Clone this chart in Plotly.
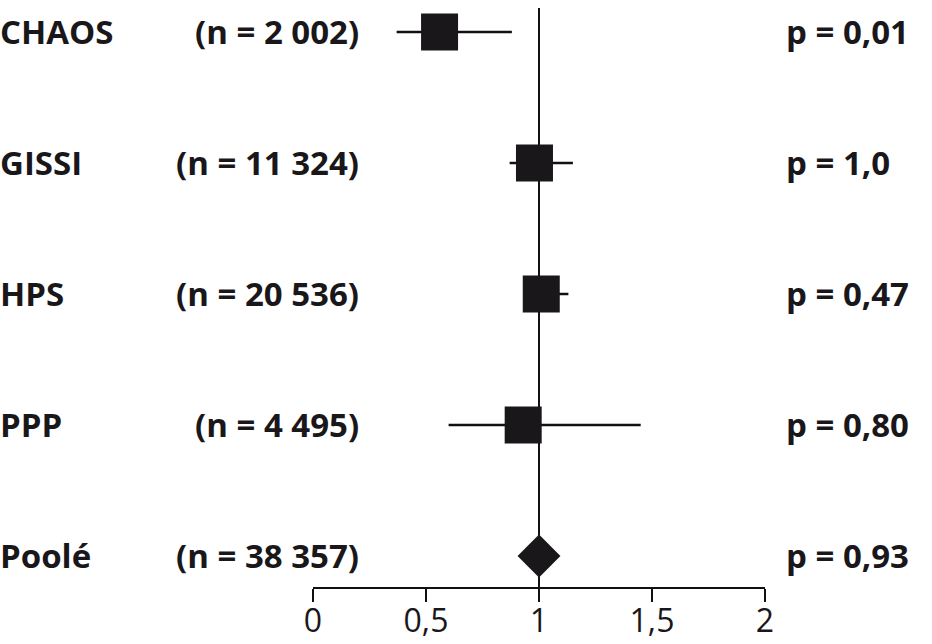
import plotly.graph_objects as go

studies = ["CHAOS", "GISSI", "HPS", "PPP"]
n_labels = ["(n = 2 002)", "(n = 11 324)", "(n = 20 536)", "(n = 4 495)"]
p_labels = ["p = 0,01", "p = 1,0", "p = 0,47", "p = 0,80"]
rr = [0.56, 0.98, 1.01, 0.93]
ci_low = [0.37, 0.87, 0.93, 0.60]
ci_high = [0.88, 1.15, 1.13, 1.45]
rows = [5, 4, 3, 2]

pooled_name = "Poolé"
pooled_n = "(n = 38 357)"
pooled_p = "p = 0,93"
pooled_rr = 1.0
pooled_row = 1

tick_vals = [0, 0.5, 1, 1.5, 2]
tick_text = ["0", "0,5", "1", "1,5", "2"]

INK = "#1a171b"
W, H = 932, 644
L, R, T, B = 313, 167, 8, 57

fig = go.Figure()

fig.add_trace(go.Scatter(
    x=rr, y=rows, mode="markers",
    marker=dict(symbol="square", size=37, color=INK, line=dict(width=0)),
    error_x=dict(type="data", symmetric=False,
                 array=[h - v for h, v in zip(ci_high, rr)],
                 arrayminus=[v - l for v, l in zip(rr, ci_low)],
                 color="#111111", thickness=2.5, width=0),
    showlegend=False, hoverinfo="skip"))

fig.add_trace(go.Scatter(
    x=[pooled_rr], y=[pooled_row], mode="markers",
    marker=dict(symbol="diamond", size=33, color=INK, line=dict(width=0)),
    showlegend=False, hoverinfo="skip"))

fig.add_shape(type="line", xref="x", yref="paper", x0=1, x1=1, y0=0, y1=1,
              line=dict(color="#111111", width=2), layer="below")

font_b = dict(family="Open Sans", size=33, color=INK)

def px_to_paper_x(px):
    return (px - L) / (W - L - R)

all_names = studies + [pooled_name]
all_n = n_labels + [pooled_n]
all_p = p_labels + [pooled_p]
all_rows = rows + [pooled_row]

for name, nl, pl, r in zip(all_names, all_n, all_p, all_rows):
    fig.add_annotation(x=px_to_paper_x(-2), xref="paper", y=r, yref="y",
                       text="<b>%s</b>" % name, showarrow=False,
                       xanchor="left", yanchor="middle", font=font_b)
    fig.add_annotation(x=px_to_paper_x(361), xref="paper", y=r, yref="y",
                       text="<b>%s</b>" % nl, showarrow=False,
                       xanchor="right", yanchor="middle", font=font_b)
    fig.add_annotation(x=px_to_paper_x(784), xref="paper", y=r, yref="y",
                       text="<b>%s</b>" % pl, showarrow=False,
                       xanchor="left", yanchor="middle", font=font_b)

fig.update_layout(
    width=W, height=H,
    margin=dict(l=L, r=R, t=T, b=B, pad=0, autoexpand=False),
    paper_bgcolor="white", plot_bgcolor="white",
    xaxis=dict(range=[0, 2], tickvals=tick_vals, ticktext=tick_text,
               automargin=False,
               showgrid=False, zeroline=False, showline=True,
               linecolor="#111111", linewidth=2,
               ticks="outside", ticklen=13, tickwidth=2, tickcolor="#111111",
               ticklabelstandoff=-8,
               tickfont=dict(family="Open Sans", size=32, color=INK)),
    yaxis=dict(range=[0.763, 5.183], visible=False, showgrid=False,
               zeroline=False, automargin=False),
)

fig.write_html("out.html", config={"displayModeBar": False},
               post_script="document.body.style.margin='0';document.body.style.padding='0';")
